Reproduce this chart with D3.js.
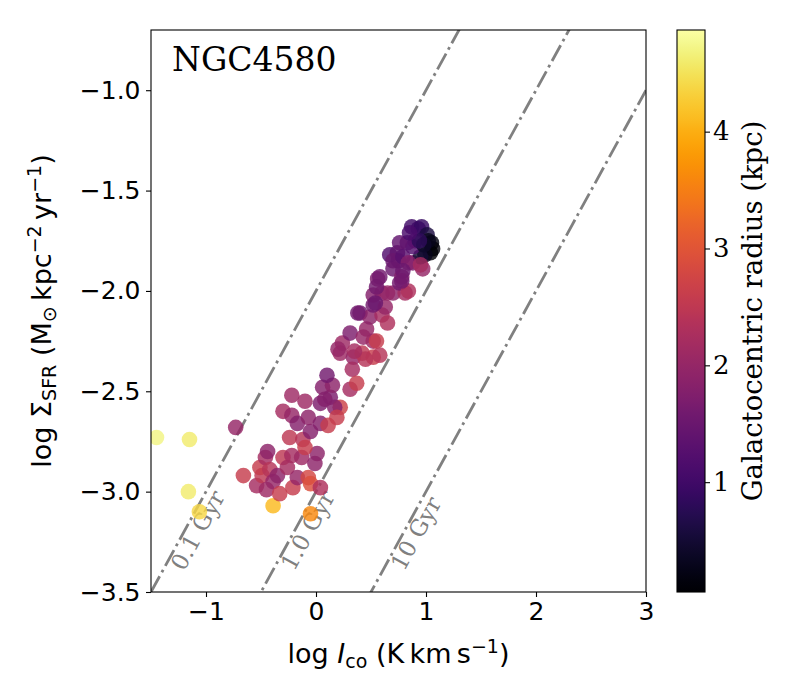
<!DOCTYPE html>
<html>
<head>
<meta charset="utf-8">
<script src="https://cdn.jsdelivr.net/npm/d3@7"></script>
<style>
  body { margin: 0; background: #fff; }
</style>
</head>
<body>
<div id="chart"></div>
<script>
// log I_co (K km/s)
const logICO = [
  -1.45, -1.15, -1.16, -1.06, -0.39, -0.05, -0.73, -0.66,
  -0.54, -0.49, -0.51, -0.46, -0.44, -0.45, -0.42, -0.39, -0.35, -0.33,
  -0.30, -0.26, -0.22, -0.21, -0.17, -0.13, -0.07, -0.05, -0.01, 0.04,
  0.01, -0.24, -0.12, -0.10, -0.05, -0.30, -0.22, -0.10, -0.22, -0.17,
  -0.07, 0.04, 0.11, 0.04, 0.13, 0.06, 0.15, 0.31, 0.22, 0.08,
  0.17, 0.19, 0.10, 0.22, 0.34, 0.33, 0.37, 0.52, 0.42, 0.45,
  0.24, 0.31, 0.43, 0.52, 0.55, 0.46, 0.40, 0.49, 0.60, 0.65,
  0.52, 0.63, 0.52, 0.60, 0.70, 0.81, 0.56, 0.70, 0.78, 0.75,
  0.88, 0.97, 0.67, 0.65, 0.76, 0.84, 0.54, 0.38,
  0.20, 0.35, 0.58,
  0.87, 0.93, 0.96, 1.01, 1.05, 1.06, 1.04, 0.99, 0.95, 0.88,
  0.90, 0.83, 0.76, 0.74, 0.70, 0.79, 0.84, 0.95, 0.58, 0.55,
  0.79, 0.78, 1.02, 0.98, 0.94, 0.85
];

// log Sigma_SFR (Msun kpc^-2 yr^-1)
const logSFR = [
  -2.73, -2.74, -3.00, -3.10, -3.07, -3.11, -2.68, -2.92,
  -2.97, -2.92, -2.88, -2.83, -2.80, -2.99, -2.89, -2.95, -2.92, -3.01,
  -2.83, -2.88, -2.82, -2.98, -2.93, -2.83, -2.93, -2.96, -2.86, -2.98,
  -2.81, -2.73, -2.74, -2.78, -2.70, -2.60, -2.52, -2.55, -2.62, -2.66,
  -2.63, -2.66, -2.67, -2.56, -2.53, -2.48, -2.47, -2.49, -2.58, -2.54,
  -2.58, -2.63, -2.42, -2.31, -2.33, -2.39, -2.46, -2.33, -2.31, -2.34,
  -2.26, -2.21, -2.23, -2.25, -2.25, -2.19, -2.11, -2.13, -2.12, -2.16,
  -2.07, -2.08, -2.02, -2.01, -2.01, -2.01, -1.94, -1.89, -1.93, -1.85,
  -1.86, -1.89, -1.82, -2.01, -1.96, -2.00, -2.06, -2.11,
  -2.29, -2.30, -2.32,
  -1.68, -1.69, -1.68, -1.72, -1.76, -1.79, -1.81, -1.82, -1.83, -1.78,
  -1.75, -1.76, -1.76, -1.81, -1.85, -1.83, -1.86, -1.87, -1.93, -1.98,
  -1.90, -1.95, -1.75, -1.77, -1.75, -1.71
];

// galactocentric radius (kpc)
const radius = [
  4.7, 4.6, 4.6, 4.4, 4.1, 3.6, 2.0, 2.6,
  2.2, 2.5, 2.6, 2.2, 1.9, 2.1, 2.4, 2.0, 1.9, 2.6,
  2.5, 2.2, 2.2, 2.6, 2.0, 2.1, 2.8, 2.9, 1.9, 2.3,
  1.9, 2.5, 2.4, 2.6, 1.8, 2.2, 2.1, 2.1, 2.0, 1.8,
  1.9, 1.8, 2.6, 1.7, 1.7, 1.8, 1.9, 2.2, 2.7, 1.8,
  1.8, 2.6, 1.6, 2.1, 2.0, 2.2, 2.6, 2.6, 2.5, 2.4,
  2.1, 1.7, 2.0, 2.1, 2.6, 2.0, 1.6, 1.9, 2.2, 2.3,
  1.6, 2.0, 1.8, 1.9, 1.9, 2.2, 1.7, 1.5, 1.8, 1.4,
  1.7, 2.0, 1.2, 2.0, 1.6, 2.3, 1.5, 1.6,
  2.0, 2.2, 2.4,
  1.0, 1.0, 0.9, 0.6, 0.2, 0.15, 0.1, 0.3, 0.5, 1.2,
  1.3, 1.3, 1.4, 1.4, 1.5, 1.3, 1.8, 2.2, 1.6, 1.6,
  1.5, 1.6, 0.3, 0.4, 0.8, 1.1
];

// constant depletion time lines: log SFR = log Ico + offset
const depletionLabels = ["0.1 Gyr", "1.0 Gyr", "10 Gyr"];
const depletionOffsets = [-2, -3, -4];

const xTicks = [-1, 0, 1, 2, 3];
const yTicks = [-3.5, -3.0, -2.5, -2.0, -1.5, -1.0];
const cbarTicks = [1, 2, 3, 4];
const radiusRange = [0.06, 4.87];

const galaxyName = "NGC4580";

// Layout
const W = 800, H = 700;
const plot = { left: 151, right: 646, top: 30, bottom: 592 };
const cbar = { left: 677, right: 705, top: 30, bottom: 592 };

const svg = d3.select("#chart")
  .append("svg")
  .attr("width", W)
  .attr("height", H)
  .style("background", "#fff");

const x = d3.scaleLinear().domain([-1.5, 3]).range([plot.left, plot.right]);
const y = d3.scaleLinear().domain([-3.5, -0.7]).range([plot.bottom, plot.top]);
const color = d3.scaleSequential(d3.interpolateInferno).domain(radiusRange);

svg.append("clipPath").attr("id", "clip")
  .append("rect")
  .attr("x", plot.left).attr("y", plot.top)
  .attr("width", plot.right - plot.left)
  .attr("height", plot.bottom - plot.top);

// Depletion time lines
const lines = svg.append("g").attr("clip-path", "url(#clip)");
depletionOffsets.forEach(off => {
  lines.append("line")
    .attr("x1", x(-1.5)).attr("y1", y(-1.5 + off))
    .attr("x2", x(3)).attr("y2", y(3 + off))
    .attr("stroke", "#808080")
    .attr("stroke-width", 2.8)
    .attr("stroke-dasharray", "18,4.5,2.8,4.5");
});

// Line labels, rotated along the lines
const angle = Math.atan2(y(0) - y(1), x(1) - x(0)) * 180 / Math.PI;
depletionOffsets.forEach((off, i) => {
  const ly = -3.4;
  const lx = ly - off + 0.2;
  svg.append("text")
    .attr("transform", `translate(${x(lx)},${y(ly)}) rotate(${-angle})`)
    .attr("font-family", "DejaVu Serif")
    .attr("font-size", 23)
    .attr("fill", "#808080")
    .text(depletionLabels[i]);
});

// Scatter points
svg.append("g")
  .attr("clip-path", "url(#clip)")
  .selectAll("circle")
  .data(logICO.map((v, i) => ({ x: v, y: logSFR[i], r: radius[i] })))
  .join("circle")
  .attr("cx", d => x(d.x))
  .attr("cy", d => y(d.y))
  .attr("r", 7.8)
  .attr("fill", d => color(d.r))
  .attr("fill-opacity", 0.82);

// Frame
svg.append("rect")
  .attr("x", plot.left).attr("y", plot.top)
  .attr("width", plot.right - plot.left)
  .attr("height", plot.bottom - plot.top)
  .attr("fill", "none")
  .attr("stroke", "#000")
  .attr("stroke-width", 1.1);

// Axes
const xAxis = svg.append("g")
  .attr("transform", `translate(0,${plot.bottom})`)
  .call(d3.axisBottom(x).tickValues(xTicks).tickFormat(d3.format("d")).tickSize(5).tickSizeOuter(0));
const yAxis = svg.append("g")
  .attr("transform", `translate(${plot.left},0)`)
  .call(d3.axisLeft(y).tickValues(yTicks).tickFormat(d3.format(".1f")).tickSize(5).tickSizeOuter(0));

[xAxis, yAxis].forEach(a => {
  a.select(".domain").remove();
  a.selectAll("line").attr("stroke-width", 1.1);
  a.selectAll("text")
    .attr("font-family", "DejaVu Sans")
    .attr("font-size", 25)
    .attr("fill", "#000");
});
xAxis.selectAll("text").attr("dy", "0.8em");
yAxis.selectAll("text").attr("dx", "-0.1em");

// Title inside the plot
svg.append("text")
  .attr("x", 172)
  .attr("y", 71)
  .attr("font-family", "DejaVu Serif")
  .attr("font-size", 33)
  .text(galaxyName);

// X label: log I_co (K km s^-1)
const xl = svg.append("text")
  .attr("x", (plot.left + plot.right) / 2)
  .attr("y", 663)
  .attr("text-anchor", "middle")
  .attr("font-family", "DejaVu Sans")
  .attr("font-size", 27);
xl.append("tspan").text("log ");
xl.append("tspan").attr("font-style", "italic").text("I");
xl.append("tspan").attr("font-size", 19).attr("dy", 5).text("co");
xl.append("tspan").attr("dy", -5).text(" (K\u2009km\u2009s");
xl.append("tspan").attr("font-size", 19).attr("dy", -10).text("\u22121");
xl.append("tspan").attr("dy", 10).text(")");

// Y label: log Sigma_SFR (Msun kpc^-2 yr^-1)
const yl = svg.append("text")
  .attr("transform", `translate(51,${(plot.top + plot.bottom) / 2}) rotate(-90)`)
  .attr("text-anchor", "middle")
  .attr("font-family", "DejaVu Sans")
  .attr("font-size", 27);
yl.append("tspan").text("log \u03a3");
yl.append("tspan").attr("font-size", 19).attr("dy", 5).text("SFR");
yl.append("tspan").attr("dy", -5).text(" (M");
yl.append("tspan").attr("font-size", 19).attr("dy", 5).text("\u2299");
yl.append("tspan").attr("dy", -5).text("\u2009kpc");
yl.append("tspan").attr("font-size", 19).attr("dy", -10).text("\u22122");
yl.append("tspan").attr("dy", 10).text("\u2009yr");
yl.append("tspan").attr("font-size", 19).attr("dy", -10).text("\u22121");
yl.append("tspan").attr("dy", 10).text(")");

// Colorbar
const cy = d3.scaleLinear().domain(radiusRange).range([cbar.bottom, cbar.top]);
const grad = svg.append("defs").append("linearGradient")
  .attr("id", "cbgrad")
  .attr("x1", 0).attr("y1", 1).attr("x2", 0).attr("y2", 0);
d3.range(0, 1.0001, 0.02).forEach(t => {
  grad.append("stop")
    .attr("offset", t)
    .attr("stop-color", color(radiusRange[0] + t * (radiusRange[1] - radiusRange[0])));
});
svg.append("rect")
  .attr("x", cbar.left).attr("y", cbar.top)
  .attr("width", cbar.right - cbar.left)
  .attr("height", cbar.bottom - cbar.top)
  .attr("fill", "url(#cbgrad)")
  .attr("stroke", "#000")
  .attr("stroke-width", 1.1);

const cAxis = svg.append("g")
  .attr("transform", `translate(${cbar.right},0)`)
  .call(d3.axisRight(cy).tickValues(cbarTicks).tickFormat(d3.format("d")).tickSize(5).tickSizeOuter(0));
cAxis.select(".domain").remove();
cAxis.selectAll("line").attr("stroke-width", 1.1);
cAxis.selectAll("text")
  .attr("font-family", "DejaVu Serif")
  .attr("font-size", 26)
  .attr("fill", "#000");

svg.append("text")
  .attr("transform", `translate(762,${(cbar.top + cbar.bottom) / 2}) rotate(-90)`)
  .attr("text-anchor", "middle")
  .attr("font-family", "DejaVu Serif")
  .attr("font-size", 27.5)
  .text("Galactocentric radius (kpc)");
</script>
</body>
</html>
